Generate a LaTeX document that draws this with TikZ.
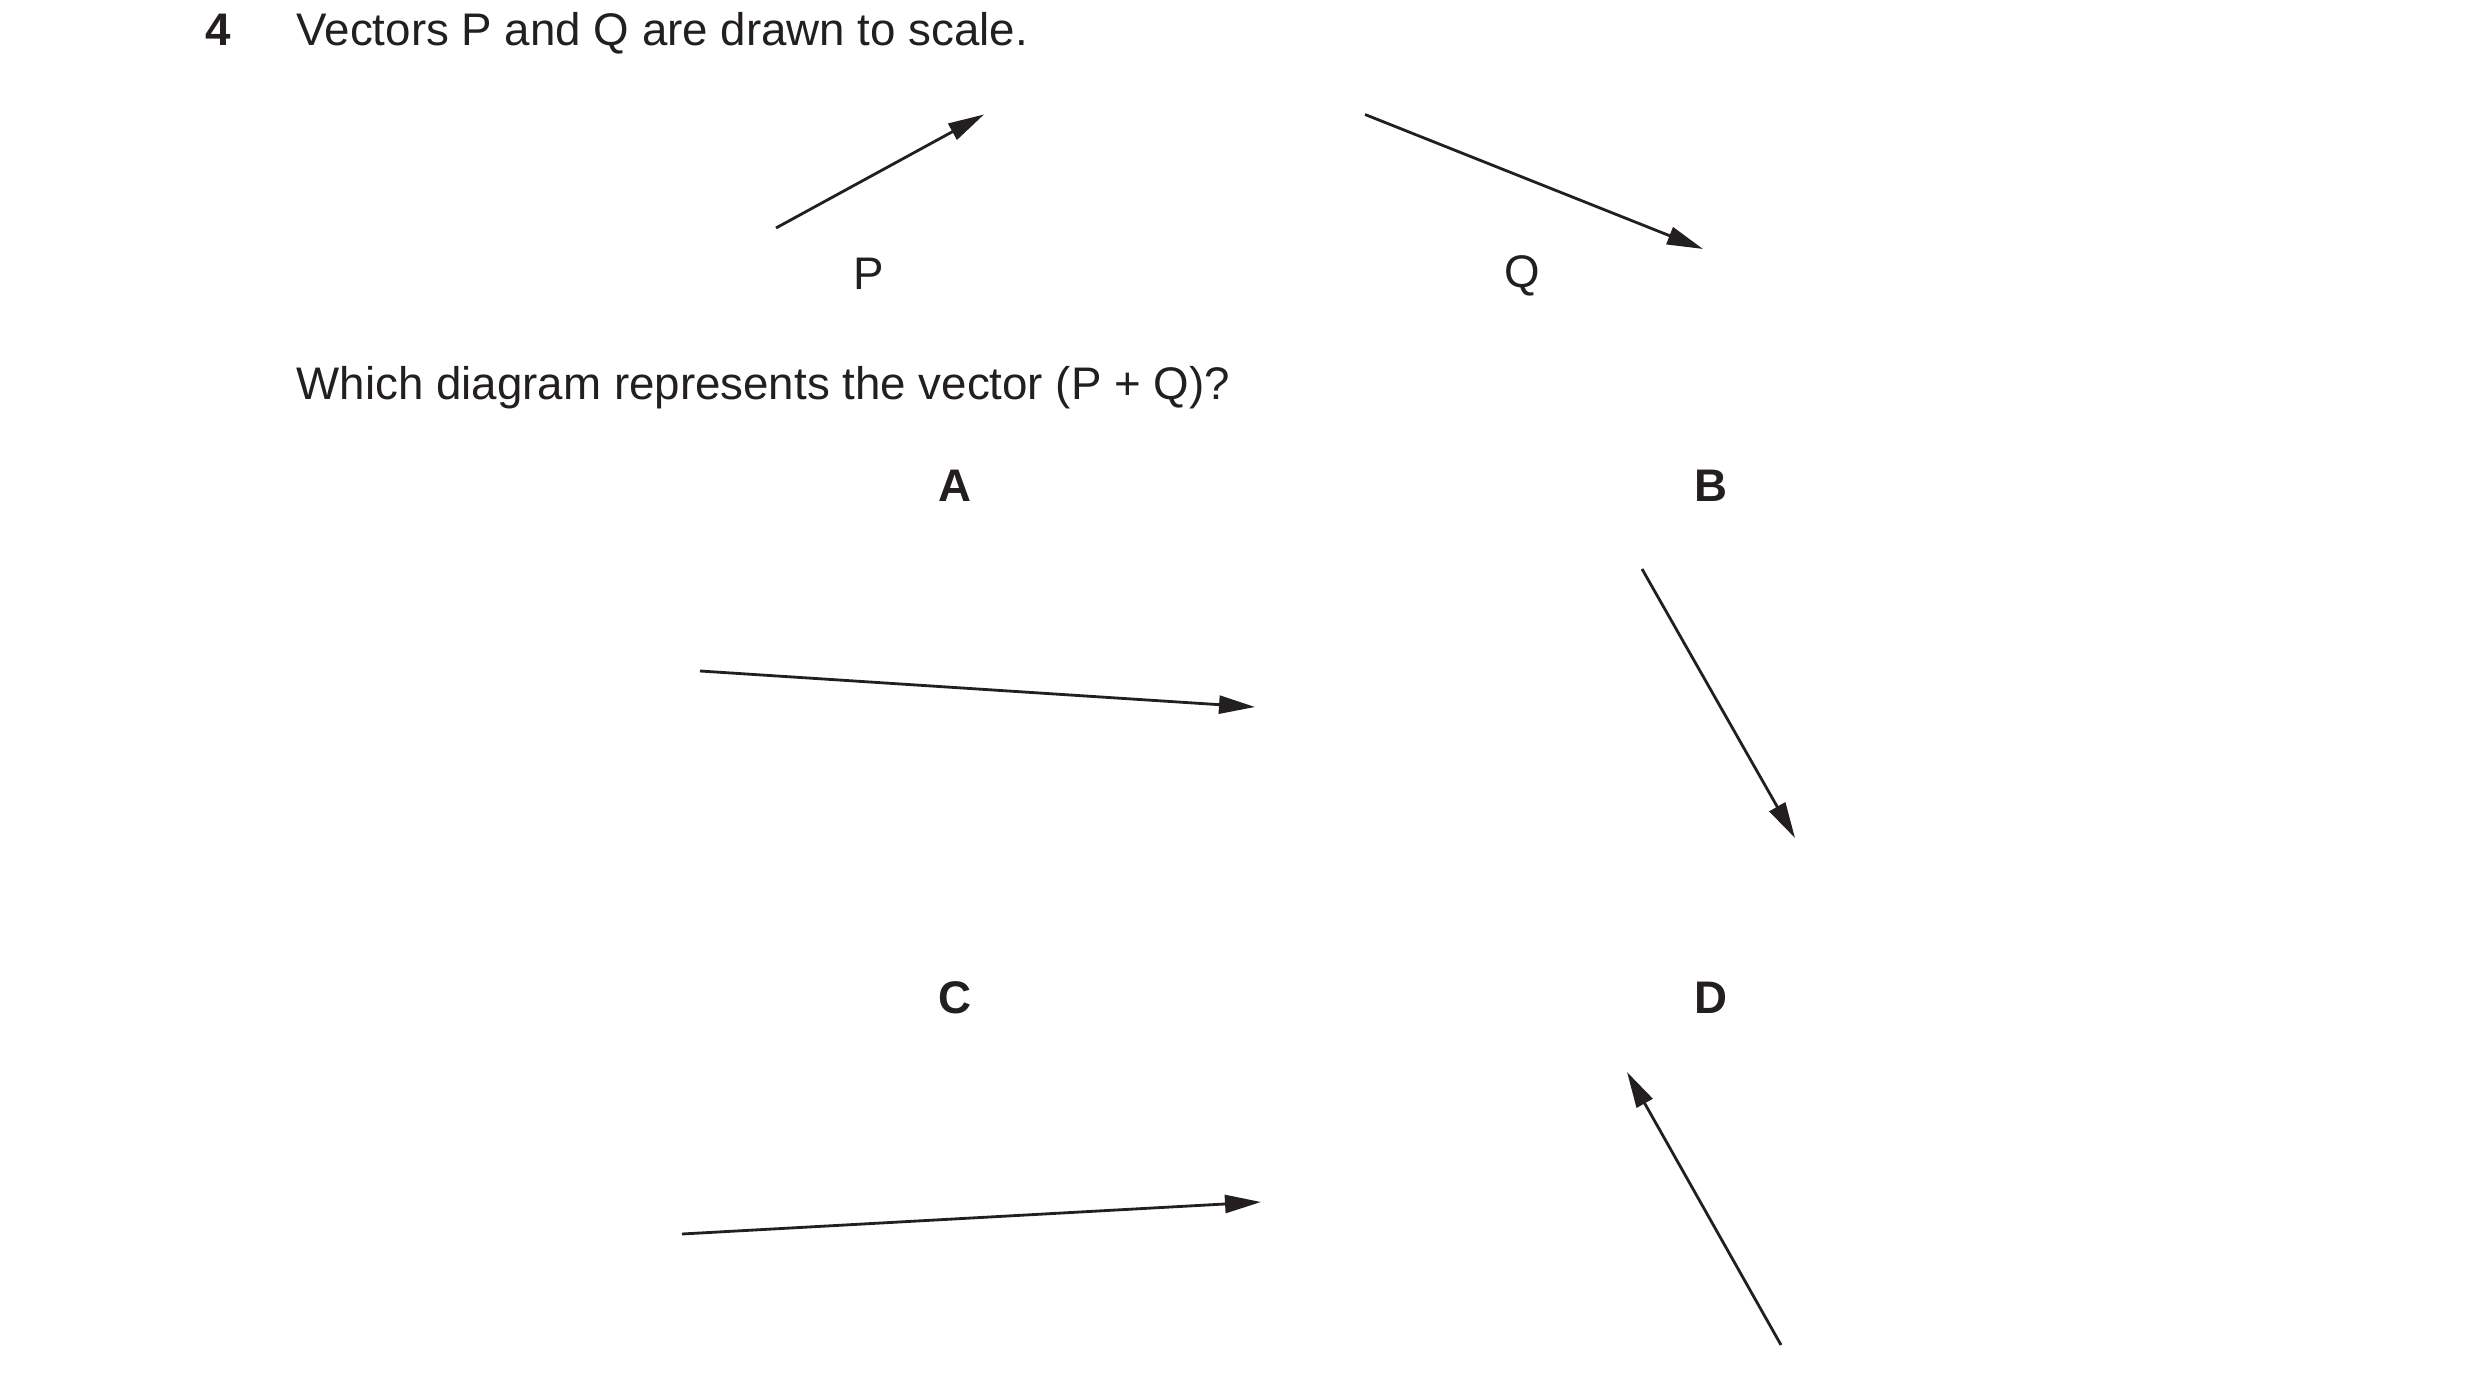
\documentclass[tikz,border=0pt]{standalone}
\usepackage{fontspec}
\setmainfont{Liberation Sans}
\usetikzlibrary{arrows.meta}
\definecolor{ink}{RGB}{35,31,32}
\tikzset{
  vec/.style={draw=ink, line width=0.8pt, -{Triangle[length=3.6mm,width=1.8mm]}},
  txt/.style={text=ink, inner sep=0pt, font=\fontsize{13}{15.6}\selectfont},
  lbl/.style={txt, font=\fontsize{13}{15.6}\selectfont\bfseries}
}

\begin{document}
\begin{tikzpicture}
  \useasboundingbox (0,0) rectangle (24.8,-13.81);

  % Question text
  \node[lbl, anchor=base] (num) at (2.18,-0.453) {4};
  \node[txt, anchor=base west] (stem) at (2.96,-0.453) {Vectors P and Q are drawn to scale.};

  % Vectors P and Q
  \coordinate (P0) at (7.76,-2.28);
  \coordinate (P1) at (9.84,-1.145);
  \coordinate (Q0) at (13.65,-1.145);
  \coordinate (Q1) at (17.03,-2.49);
  \draw[vec] (P0) -- (P1);
  \draw[vec] (Q0) -- (Q1);
  \node[txt] (labP) at (8.69,-2.74) {P};
  \node[txt] (labQ) at (15.22,-2.76) {Q};

  \node[txt, anchor=base west] (ask) at (2.96,-4.00) {Which diagram represents the vector (P + Q)?};

  % Options A and B
  \node[lbl] (optA) at (9.55,-4.86) {A};
  \node[lbl] (optB) at (17.11,-4.86) {B};
  \coordinate (A0) at (7.00,-6.71);
  \coordinate (A1) at (12.55,-7.07);
  \coordinate (B0) at (16.42,-5.69);
  \coordinate (B1) at (17.95,-8.38);
  \draw[vec] (A0) -- (A1);
  \draw[vec] (B0) -- (B1);

  % Options C and D
  \node[lbl] (optC) at (9.55,-9.98) {C};
  \node[lbl] (optD) at (17.11,-9.98) {D};
  \coordinate (C0) at (6.82,-12.34);
  \coordinate (C1) at (12.61,-12.02);
  \coordinate (D0) at (17.81,-13.45);
  \coordinate (D1) at (16.27,-10.72);
  \draw[vec] (C0) -- (C1);
  \draw[vec] (D0) -- (D1);
\end{tikzpicture}
\end{document}
